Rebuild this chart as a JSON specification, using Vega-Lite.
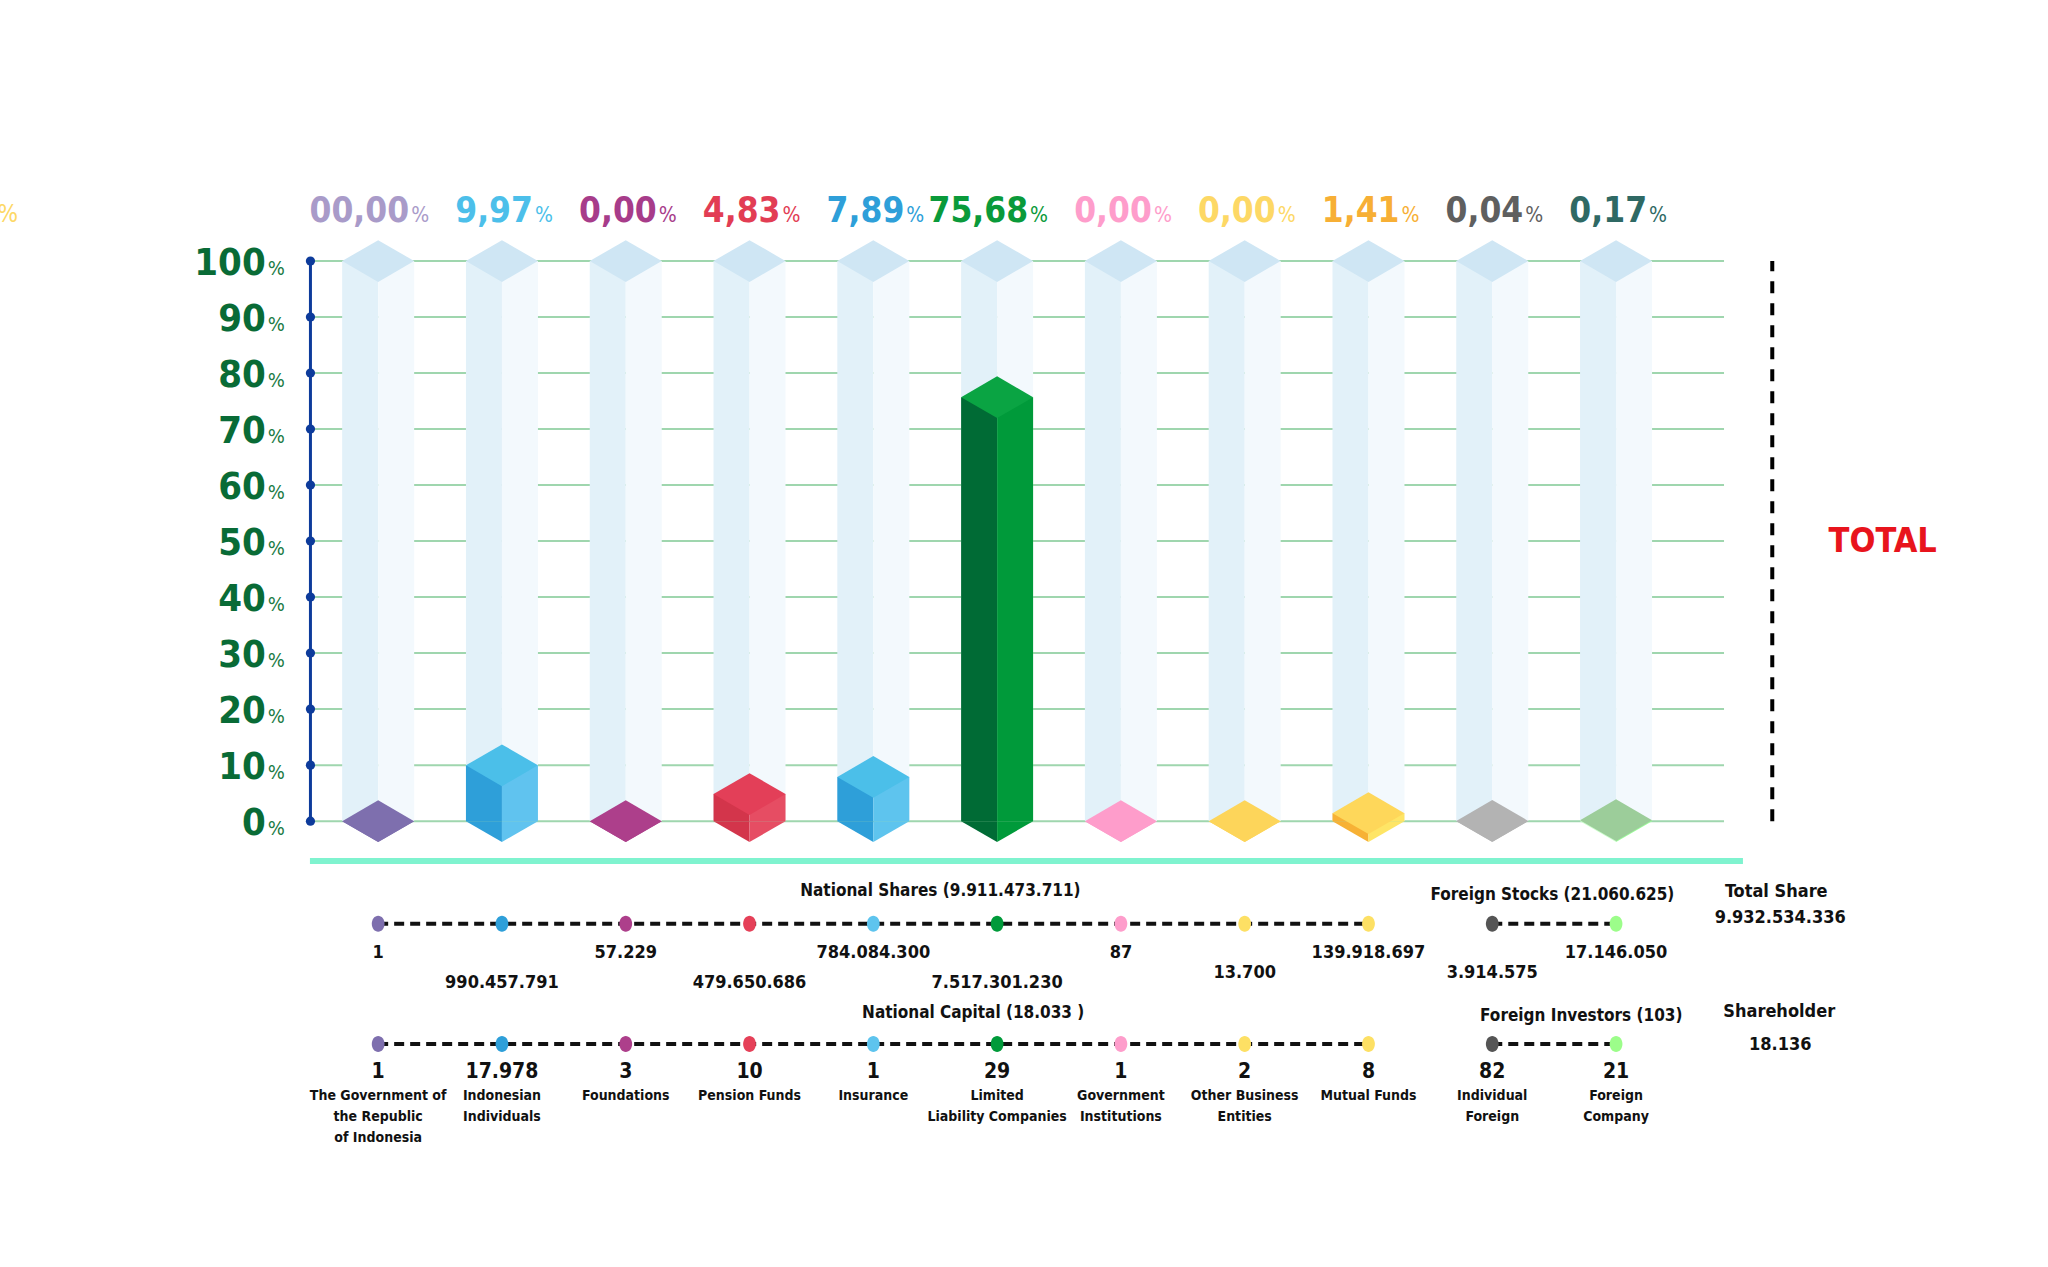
{
  "$schema": "https://vega.github.io/schema/vega-lite/v6.json",
  "width": 2048,
  "height": 1267,
  "autosize": {"type": "none"},
  "padding": 0,
  "background": "white",
  "config": {
    "view": {"stroke": null},
    "text": {"font": "DejaVu Sans Condensed, Liberation Sans Narrow, sans-serif"}
  },
  "datasets": {
    "cols": [
      {"i": 1, "group": "National", "category": "The Government of\nthe Republic\nof Indonesia", "pct": "00,00", "share": 0, "shares": "1", "holders": "1", "tier": "up"},
      {"i": 2, "group": "National", "category": "Indonesian\nIndividuals", "pct": "9,97", "share": 9.97, "shares": "990.457.791", "holders": "17.978", "tier": "low"},
      {"i": 3, "group": "National", "category": "Foundations", "pct": "0,00", "share": 0, "shares": "57.229", "holders": "3", "tier": "up"},
      {"i": 4, "group": "National", "category": "Pension Funds", "pct": "4,83", "share": 4.83, "shares": "479.650.686", "holders": "10", "tier": "low"},
      {"i": 5, "group": "National", "category": "Insurance", "pct": "7,89", "share": 7.89, "shares": "784.084.300", "holders": "1", "tier": "up"},
      {"i": 6, "group": "National", "category": "Limited\nLiability Companies", "pct": "75,68", "share": 75.68, "shares": "7.517.301.230", "holders": "29", "tier": "low"},
      {"i": 7, "group": "National", "category": "Government\nInstitutions", "pct": "0,00", "share": 0, "shares": "87", "holders": "1", "tier": "up"},
      {"i": 8, "group": "National", "category": "Other Business\nEntities", "pct": "0,00", "share": 0, "shares": "13.700", "holders": "2", "tier": "mid"},
      {"i": 9, "group": "National", "category": "Mutual Funds", "pct": "1,41", "share": 1.41, "shares": "139.918.697", "holders": "8", "tier": "up"},
      {"i": 10, "group": "Foreign", "category": "Individual\nForeign", "pct": "0,04", "share": 0.04, "shares": "3.914.575", "holders": "82", "tier": "mid"},
      {"i": 11, "group": "Foreign", "category": "Foreign\nCompany", "pct": "0,17", "share": 0.17, "shares": "17.146.050", "holders": "21", "tier": "up"}
    ],
    "grid": [
      {"v": 0}, {"v": 10}, {"v": 20}, {"v": 30}, {"v": 40}, {"v": 50},
      {"v": 60}, {"v": 70}, {"v": 80}, {"v": 90}, {"v": 100}
    ]
  },
  "resolve": {"scale": {"color": "independent"}},
  "layer": [
    {
      "data": {"name": "grid"},
      "mark": {"type": "tick", "orient": "horizontal", "size": 1411, "thickness": 2, "color": "#9fd6ae", "opacity": 1},
      "encoding": {
        "x": {"datum": 6.173, "type": "quantitative", "axis": null, "scale": {"domain": [-2.0145, 14.449], "nice": false, "zero": false}},
        "y": {"field": "v", "type": "quantitative", "axis": null, "scale": {"domain": [-79.6, 146.6], "nice": false, "zero": false}}
      }
    },
    {
      "data": {"name": "cols"},
      "mark": {"type": "tick", "orient": "vertical", "size": 560, "thickness": 36, "xOffset": -18, "color": "#e2f1f9", "opacity": 1},
      "encoding": {
        "x": {"field": "i", "type": "quantitative", "axis": null, "scale": {"domain": [-2.0145, 14.449], "nice": false, "zero": false}},
        "y": {"datum": 50, "type": "quantitative", "axis": null, "scale": {"domain": [-79.6, 146.6], "nice": false, "zero": false}}
      }
    },
    {
      "data": {"name": "cols"},
      "mark": {"type": "tick", "orient": "vertical", "size": 560, "thickness": 36, "xOffset": 18, "color": "#f3f9fd", "opacity": 1},
      "encoding": {
        "x": {"field": "i", "type": "quantitative", "axis": null, "scale": {"domain": [-2.0145, 14.449], "nice": false, "zero": false}},
        "y": {"datum": 50, "type": "quantitative", "axis": null, "scale": {"domain": [-79.6, 146.6], "nice": false, "zero": false}}
      }
    },
    {
      "data": {"name": "cols"},
      "mark": {"type": "point", "shape": "M-1,0L0,-0.58L1,0L0,0.58Z", "size": 5184, "filled": true, "opacity": 1, "strokeWidth": 0, "color": "#cfe6f4"},
      "encoding": {
        "x": {"field": "i", "type": "quantitative", "axis": null, "scale": {"domain": [-2.0145, 14.449], "nice": false, "zero": false}},
        "y": {"datum": 100, "type": "quantitative", "axis": null, "scale": {"domain": [-79.6, 146.6], "nice": false, "zero": false}}
      }
    },
    {
      "data": {"name": "cols"},
      "mark": {"type": "bar", "orient": "vertical", "width": 36, "xOffset": -18},
      "encoding": {
        "x": {"field": "i", "type": "quantitative", "stack": null, "axis": null, "scale": {"domain": [-2.0145, 14.449], "nice": false, "zero": false}},
        "y": {"field": "share", "type": "quantitative", "stack": null, "axis": null, "scale": {"domain": [-79.6, 146.6], "nice": false, "zero": false}},
        "color": {"field": "i", "type": "nominal", "legend": null, "scale": {"domain": [1, 2, 3, 4, 5, 6, 7, 8, 9, 10, 11], "range": ["#7e6fae", "#2e9fd9", "#ad3f8b", "#d3354b", "#2e9fd9", "#006b35", "#fe9dcb", "#fdd55a", "#f7b135", "#b3b3b3", "#ccfdcc"]}}
      }
    },
    {
      "data": {"name": "cols"},
      "mark": {"type": "bar", "orient": "vertical", "width": 36, "xOffset": 18},
      "encoding": {
        "x": {"field": "i", "type": "quantitative", "stack": null, "axis": null, "scale": {"domain": [-2.0145, 14.449], "nice": false, "zero": false}},
        "y": {"field": "share", "type": "quantitative", "stack": null, "axis": null, "scale": {"domain": [-79.6, 146.6], "nice": false, "zero": false}},
        "color": {"field": "i", "type": "nominal", "legend": null, "scale": {"domain": [1, 2, 3, 4, 5, 6, 7, 8, 9, 10, 11], "range": ["#7e6fae", "#60c3ef", "#ad3f8b", "#e64d63", "#5ec4ee", "#009a3a", "#fe9dcb", "#fdd55a", "#fee566", "#b3b3b3", "#9cfd9a"]}}
      }
    },
    {
      "data": {"name": "cols"},
      "mark": {"type": "point", "shape": "M-1,0L0,0L0,0.58Z", "size": 5184, "filled": true, "opacity": 1, "strokeWidth": 0},
      "encoding": {
        "x": {"field": "i", "type": "quantitative", "axis": null, "scale": {"domain": [-2.0145, 14.449], "nice": false, "zero": false}},
        "y": {"datum": 0, "type": "quantitative", "axis": null, "scale": {"domain": [-79.6, 146.6], "nice": false, "zero": false}},
        "color": {"field": "i", "type": "nominal", "legend": null, "scale": {"domain": [1, 2, 3, 4, 5, 6, 7, 8, 9, 10, 11], "range": ["#7e6fae", "#2e9fd9", "#ad3f8b", "#d3354b", "#2e9fd9", "#006b35", "#fe9dcb", "#fdd55a", "#f7b135", "#b3b3b3", "#ccfdcc"]}}
      }
    },
    {
      "data": {"name": "cols"},
      "mark": {"type": "point", "shape": "M0,0L1,0L0,0.58Z", "size": 5184, "filled": true, "opacity": 1, "strokeWidth": 0},
      "encoding": {
        "x": {"field": "i", "type": "quantitative", "axis": null, "scale": {"domain": [-2.0145, 14.449], "nice": false, "zero": false}},
        "y": {"datum": 0, "type": "quantitative", "axis": null, "scale": {"domain": [-79.6, 146.6], "nice": false, "zero": false}},
        "color": {"field": "i", "type": "nominal", "legend": null, "scale": {"domain": [1, 2, 3, 4, 5, 6, 7, 8, 9, 10, 11], "range": ["#7e6fae", "#60c3ef", "#ad3f8b", "#e64d63", "#5ec4ee", "#009a3a", "#fe9dcb", "#fdd55a", "#fee566", "#b3b3b3", "#9cfd9a"]}}
      }
    },
    {
      "data": {"name": "cols"},
      "mark": {"type": "point", "shape": "M-1,0L0,-0.58L1,0L0,0.58Z", "size": 5184, "filled": true, "opacity": 1, "strokeWidth": 0},
      "encoding": {
        "x": {"field": "i", "type": "quantitative", "axis": null, "scale": {"domain": [-2.0145, 14.449], "nice": false, "zero": false}},
        "y": {"field": "share", "type": "quantitative", "axis": null, "scale": {"domain": [-79.6, 146.6], "nice": false, "zero": false}},
        "color": {"field": "i", "type": "nominal", "legend": null, "scale": {"domain": [1, 2, 3, 4, 5, 6, 7, 8, 9, 10, 11], "range": ["#7e6fae", "#4bbfe9", "#ad3f8b", "#e33f58", "#4bbfe9", "#0aa443", "#fe9dcb", "#fdd55a", "#fed75a", "#b3b3b3", "#9ccd9a"]}}
      }
    },
    {
      "data": {"name": "cols"},
      "mark": {"type": "text", "align": "right", "baseline": "alphabetic", "dx": 31, "fontSize": 35, "fontWeight": "bold"},
      "encoding": {
        "x": {"field": "i", "type": "quantitative", "axis": null, "scale": {"domain": [-2.0145, 14.449], "nice": false, "zero": false}},
        "y": {"datum": 107, "type": "quantitative", "axis": null, "scale": {"domain": [-79.6, 146.6], "nice": false, "zero": false}},
        "text": {"field": "pct", "type": "nominal"},
        "color": {"field": "i", "type": "nominal", "legend": null, "scale": {"domain": [1, 2, 3, 4, 5, 6, 7, 8, 9, 10, 11], "range": ["#a99bc9", "#4cbfea", "#a73c8a", "#e23d54", "#2e9fd9", "#0a9a3a", "#fe9dcb", "#fdd865", "#f7af35", "#5f5f5f", "#2f6964"]}}
      }
    },
    {
      "data": {"name": "cols"},
      "mark": {"type": "text", "align": "left", "baseline": "alphabetic", "dx": 33, "fontSize": 21, "fontWeight": "normal", "text": "%"},
      "encoding": {
        "x": {"field": "i", "type": "quantitative", "axis": null, "scale": {"domain": [-2.0145, 14.449], "nice": false, "zero": false}},
        "y": {"datum": 107, "type": "quantitative", "axis": null, "scale": {"domain": [-79.6, 146.6], "nice": false, "zero": false}},
        "color": {"field": "i", "type": "nominal", "legend": null, "scale": {"domain": [1, 2, 3, 4, 5, 6, 7, 8, 9, 10, 11], "range": ["#a99bc9", "#4cbfea", "#a73c8a", "#e23d54", "#2e9fd9", "#0a9a3a", "#fe9dcb", "#fdd865", "#f7af35", "#5f5f5f", "#2f6964"]}}
      }
    },
    {
      "data": {"values": [{}]},
      "mark": {"type": "text", "align": "right", "baseline": "alphabetic", "fontSize": 24, "fontWeight": "normal", "color": "#fdd865", "text": "%"},
      "encoding": {
        "x": {"datum": -1.91, "type": "quantitative", "axis": null, "scale": {"domain": [-2.0145, 14.449], "nice": false, "zero": false}},
        "y": {"datum": 107, "type": "quantitative", "axis": null, "scale": {"domain": [-79.6, 146.6], "nice": false, "zero": false}}
      }
    },
    {
      "data": {"name": "grid"},
      "mark": {"type": "line", "color": "#0d3b9b", "strokeWidth": 3},
      "encoding": {
        "x": {"datum": 0.453, "type": "quantitative", "axis": null, "scale": {"domain": [-2.0145, 14.449], "nice": false, "zero": false}},
        "y": {"field": "v", "type": "quantitative", "axis": null, "scale": {"domain": [-79.6, 146.6], "nice": false, "zero": false}}
      }
    },
    {
      "data": {"name": "grid"},
      "mark": {"type": "point", "filled": true, "opacity": 1, "size": 85, "color": "#0d3b9b"},
      "encoding": {
        "x": {"datum": 0.453, "type": "quantitative", "axis": null, "scale": {"domain": [-2.0145, 14.449], "nice": false, "zero": false}},
        "y": {"field": "v", "type": "quantitative", "axis": null, "scale": {"domain": [-79.6, 146.6], "nice": false, "zero": false}}
      }
    },
    {
      "data": {"name": "grid"},
      "mark": {"type": "text", "align": "right", "baseline": "alphabetic", "dy": 14, "fontSize": 38, "fontWeight": "bold", "color": "#096b36"},
      "encoding": {
        "x": {"datum": 0.0916, "type": "quantitative", "axis": null, "scale": {"domain": [-2.0145, 14.449], "nice": false, "zero": false}},
        "y": {"field": "v", "type": "quantitative", "axis": null, "scale": {"domain": [-79.6, 146.6], "nice": false, "zero": false}},
        "text": {"field": "v", "type": "quantitative"}
      }
    },
    {
      "data": {"name": "grid"},
      "mark": {"type": "text", "align": "left", "baseline": "alphabetic", "dy": 14, "fontSize": 20, "fontWeight": "normal", "color": "#1a7a44", "text": "%"},
      "encoding": {
        "x": {"datum": 0.108, "type": "quantitative", "axis": null, "scale": {"domain": [-2.0145, 14.449], "nice": false, "zero": false}},
        "y": {"field": "v", "type": "quantitative", "axis": null, "scale": {"domain": [-79.6, 146.6], "nice": false, "zero": false}}
      }
    },
    {
      "data": {"values": [{}]},
      "mark": {"type": "tick", "orient": "horizontal", "size": 1433, "thickness": 6, "color": "#7ff3cf", "opacity": 1},
      "encoding": {
        "x": {"datum": 6.237, "type": "quantitative", "axis": null, "scale": {"domain": [-2.0145, 14.449], "nice": false, "zero": false}},
        "y": {"datum": -7.1, "type": "quantitative", "axis": null, "scale": {"domain": [-79.6, 146.6], "nice": false, "zero": false}}
      }
    },
    {
      "data": {"name": "grid"},
      "mark": {"type": "line", "color": "#000000", "strokeWidth": 4, "strokeDash": [12, 10]},
      "encoding": {
        "x": {"datum": 12.262, "type": "quantitative", "axis": null, "scale": {"domain": [-2.0145, 14.449], "nice": false, "zero": false}},
        "y": {"field": "v", "type": "quantitative", "axis": null, "scale": {"domain": [-79.6, 146.6], "nice": false, "zero": false}}
      }
    },
    {
      "data": {"values": [{}]},
      "mark": {"type": "text", "align": "center", "baseline": "middle", "fontSize": 34, "fontWeight": "bold", "color": "#e8141c", "text": "TOTAL"},
      "encoding": {
        "x": {"datum": 13.154, "type": "quantitative", "axis": null, "scale": {"domain": [-2.0145, 14.449], "nice": false, "zero": false}},
        "y": {"datum": 49.8, "type": "quantitative", "axis": null, "scale": {"domain": [-79.6, 146.6], "nice": false, "zero": false}}
      }
    },
    {
      "data": {"name": "cols"},
      "mark": {"type": "line", "color": "#111111", "strokeWidth": 4, "strokeDash": [10, 6]},
      "encoding": {
        "x": {"field": "i", "type": "quantitative", "axis": null, "scale": {"domain": [-2.0145, 14.449], "nice": false, "zero": false}},
        "y": {"datum": -18.3, "type": "quantitative", "axis": null, "scale": {"domain": [-79.6, 146.6], "nice": false, "zero": false}},
        "detail": {"field": "group", "type": "nominal"}
      }
    },
    {
      "data": {"name": "cols"},
      "mark": {"type": "line", "color": "#111111", "strokeWidth": 4, "strokeDash": [10, 6]},
      "encoding": {
        "x": {"field": "i", "type": "quantitative", "axis": null, "scale": {"domain": [-2.0145, 14.449], "nice": false, "zero": false}},
        "y": {"datum": -39.8, "type": "quantitative", "axis": null, "scale": {"domain": [-79.6, 146.6], "nice": false, "zero": false}},
        "detail": {"field": "group", "type": "nominal"}
      }
    },
    {
      "data": {"name": "cols"},
      "mark": {"type": "point", "shape": "M0,-1A0.8,1,0,1,1,0,1A0.8,1,0,1,1,0,-1Z", "size": 256, "filled": true, "opacity": 1, "strokeWidth": 0},
      "encoding": {
        "x": {"field": "i", "type": "quantitative", "axis": null, "scale": {"domain": [-2.0145, 14.449], "nice": false, "zero": false}},
        "y": {"datum": -18.3, "type": "quantitative", "axis": null, "scale": {"domain": [-79.6, 146.6], "nice": false, "zero": false}},
        "color": {"field": "i", "type": "nominal", "legend": null, "scale": {"domain": [1, 2, 3, 4, 5, 6, 7, 8, 9, 10, 11], "range": ["#7e6fae", "#2e9fd9", "#ad3f8b", "#e54058", "#5ec4ee", "#009a3a", "#fe9dcb", "#fde064", "#fde064", "#555555", "#9cfd8a"]}}
      }
    },
    {
      "data": {"name": "cols"},
      "mark": {"type": "point", "shape": "M0,-1A0.8,1,0,1,1,0,1A0.8,1,0,1,1,0,-1Z", "size": 256, "filled": true, "opacity": 1, "strokeWidth": 0},
      "encoding": {
        "x": {"field": "i", "type": "quantitative", "axis": null, "scale": {"domain": [-2.0145, 14.449], "nice": false, "zero": false}},
        "y": {"datum": -39.8, "type": "quantitative", "axis": null, "scale": {"domain": [-79.6, 146.6], "nice": false, "zero": false}},
        "color": {"field": "i", "type": "nominal", "legend": null, "scale": {"domain": [1, 2, 3, 4, 5, 6, 7, 8, 9, 10, 11], "range": ["#7e6fae", "#2e9fd9", "#ad3f8b", "#e54058", "#5ec4ee", "#009a3a", "#fe9dcb", "#fde064", "#fde064", "#555555", "#9cfd8a"]}}
      }
    },
    {
      "data": {"name": "cols"},
      "transform": [{"filter": "datum.tier == 'up'"}],
      "mark": {"type": "text", "align": "center", "baseline": "middle", "fontSize": 18, "fontWeight": "bold", "color": "#111111"},
      "encoding": {
        "x": {"field": "i", "type": "quantitative", "axis": null, "scale": {"domain": [-2.0145, 14.449], "nice": false, "zero": false}},
        "y": {"datum": -23.5, "type": "quantitative", "axis": null, "scale": {"domain": [-79.6, 146.6], "nice": false, "zero": false}},
        "text": {"field": "shares", "type": "nominal"}
      }
    },
    {
      "data": {"name": "cols"},
      "transform": [{"filter": "datum.tier == 'mid'"}],
      "mark": {"type": "text", "align": "center", "baseline": "middle", "fontSize": 18, "fontWeight": "bold", "color": "#111111"},
      "encoding": {
        "x": {"field": "i", "type": "quantitative", "axis": null, "scale": {"domain": [-2.0145, 14.449], "nice": false, "zero": false}},
        "y": {"datum": -27.2, "type": "quantitative", "axis": null, "scale": {"domain": [-79.6, 146.6], "nice": false, "zero": false}},
        "text": {"field": "shares", "type": "nominal"}
      }
    },
    {
      "data": {"name": "cols"},
      "transform": [{"filter": "datum.tier == 'low'"}],
      "mark": {"type": "text", "align": "center", "baseline": "middle", "fontSize": 18, "fontWeight": "bold", "color": "#111111"},
      "encoding": {
        "x": {"field": "i", "type": "quantitative", "axis": null, "scale": {"domain": [-2.0145, 14.449], "nice": false, "zero": false}},
        "y": {"datum": -28.9, "type": "quantitative", "axis": null, "scale": {"domain": [-79.6, 146.6], "nice": false, "zero": false}},
        "text": {"field": "shares", "type": "nominal"}
      }
    },
    {
      "data": {"name": "cols"},
      "mark": {"type": "text", "align": "center", "baseline": "middle", "fontSize": 21, "fontWeight": "bold", "color": "#111111"},
      "encoding": {
        "x": {"field": "i", "type": "quantitative", "axis": null, "scale": {"domain": [-2.0145, 14.449], "nice": false, "zero": false}},
        "y": {"datum": -44.8, "type": "quantitative", "axis": null, "scale": {"domain": [-79.6, 146.6], "nice": false, "zero": false}},
        "text": {"field": "holders", "type": "nominal"}
      }
    },
    {
      "data": {"name": "cols"},
      "mark": {"type": "text", "align": "center", "baseline": "top", "fontSize": 14, "fontWeight": "bold", "color": "#111111", "lineBreak": "\n", "lineHeight": 21},
      "encoding": {
        "x": {"field": "i", "type": "quantitative", "axis": null, "scale": {"domain": [-2.0145, 14.449], "nice": false, "zero": false}},
        "y": {"datum": -47.8, "type": "quantitative", "axis": null, "scale": {"domain": [-79.6, 146.6], "nice": false, "zero": false}},
        "text": {"field": "category", "type": "nominal"}
      }
    },
    {
      "data": {"values": [{}]},
      "mark": {"type": "text", "align": "center", "baseline": "middle", "fontSize": 17, "fontWeight": "bold", "color": "#111111", "text": "National Shares  (9.911.473.711)"},
      "encoding": {
        "x": {"datum": 5.542, "type": "quantitative", "axis": null, "scale": {"domain": [-2.0145, 14.449], "nice": false, "zero": false}},
        "y": {"datum": -12.5, "type": "quantitative", "axis": null, "scale": {"domain": [-79.6, 146.6], "nice": false, "zero": false}}
      }
    },
    {
      "data": {"values": [{}]},
      "mark": {"type": "text", "align": "center", "baseline": "middle", "fontSize": 17, "fontWeight": "bold", "color": "#111111", "text": "National Capital (18.033 )"},
      "encoding": {
        "x": {"datum": 5.807, "type": "quantitative", "axis": null, "scale": {"domain": [-2.0145, 14.449], "nice": false, "zero": false}},
        "y": {"datum": -34.3, "type": "quantitative", "axis": null, "scale": {"domain": [-79.6, 146.6], "nice": false, "zero": false}}
      }
    },
    {
      "data": {"values": [{}]},
      "mark": {"type": "text", "align": "center", "baseline": "middle", "fontSize": 17, "fontWeight": "bold", "color": "#111111", "text": "Foreign Stocks (21.060.625)"},
      "encoding": {
        "x": {"datum": 10.486, "type": "quantitative", "axis": null, "scale": {"domain": [-2.0145, 14.449], "nice": false, "zero": false}},
        "y": {"datum": -13.2, "type": "quantitative", "axis": null, "scale": {"domain": [-79.6, 146.6], "nice": false, "zero": false}}
      }
    },
    {
      "data": {"values": [{}]},
      "mark": {"type": "text", "align": "center", "baseline": "middle", "fontSize": 17, "fontWeight": "bold", "color": "#111111", "text": "Foreign Investors (103)"},
      "encoding": {
        "x": {"datum": 10.719, "type": "quantitative", "axis": null, "scale": {"domain": [-2.0145, 14.449], "nice": false, "zero": false}},
        "y": {"datum": -34.8, "type": "quantitative", "axis": null, "scale": {"domain": [-79.6, 146.6], "nice": false, "zero": false}}
      }
    },
    {
      "data": {"values": [{}]},
      "mark": {"type": "text", "align": "center", "baseline": "middle", "fontSize": 18, "fontWeight": "bold", "color": "#111111", "text": "Total Share"},
      "encoding": {
        "x": {"datum": 12.294, "type": "quantitative", "axis": null, "scale": {"domain": [-2.0145, 14.449], "nice": false, "zero": false}},
        "y": {"datum": -12.7, "type": "quantitative", "axis": null, "scale": {"domain": [-79.6, 146.6], "nice": false, "zero": false}}
      }
    },
    {
      "data": {"values": [{}]},
      "mark": {"type": "text", "align": "center", "baseline": "middle", "fontSize": 18, "fontWeight": "bold", "color": "#111111", "text": "9.932.534.336"},
      "encoding": {
        "x": {"datum": 12.326, "type": "quantitative", "axis": null, "scale": {"domain": [-2.0145, 14.449], "nice": false, "zero": false}},
        "y": {"datum": -17.3, "type": "quantitative", "axis": null, "scale": {"domain": [-79.6, 146.6], "nice": false, "zero": false}}
      }
    },
    {
      "data": {"values": [{}]},
      "mark": {"type": "text", "align": "center", "baseline": "middle", "fontSize": 18, "fontWeight": "bold", "color": "#111111", "text": "Shareholder"},
      "encoding": {
        "x": {"datum": 12.318, "type": "quantitative", "axis": null, "scale": {"domain": [-2.0145, 14.449], "nice": false, "zero": false}},
        "y": {"datum": -34.1, "type": "quantitative", "axis": null, "scale": {"domain": [-79.6, 146.6], "nice": false, "zero": false}}
      }
    },
    {
      "data": {"values": [{}]},
      "mark": {"type": "text", "align": "center", "baseline": "middle", "fontSize": 18, "fontWeight": "bold", "color": "#111111", "text": "18.136"},
      "encoding": {
        "x": {"datum": 12.326, "type": "quantitative", "axis": null, "scale": {"domain": [-2.0145, 14.449], "nice": false, "zero": false}},
        "y": {"datum": -40, "type": "quantitative", "axis": null, "scale": {"domain": [-79.6, 146.6], "nice": false, "zero": false}}
      }
    }
  ]
}
